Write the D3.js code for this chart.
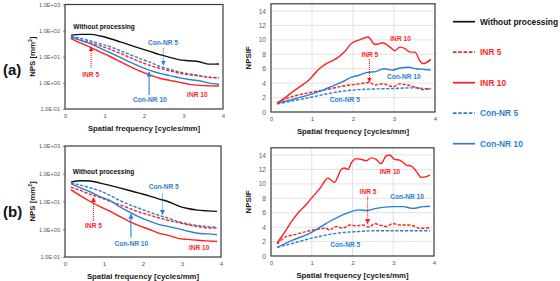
<!DOCTYPE html>
<html>
<head>
<meta charset="utf-8">
<script src="https://cdn.jsdelivr.net/npm/d3@7"></script>
<style>
  html, body { margin: 0; padding: 0; background: #fff; }
  svg { display: block; font-family: "Liberation Sans", Arial, sans-serif; }
</style>
</head>
<body>
<svg id="chart" width="560" height="281"></svg>
<script>
// ---- data -------------------------------------------------------------
const npsFreq = [0.15, 0.4, 0.65, 0.9, 1.15, 1.4, 1.65, 1.9, 2.15, 2.4, 2.65, 2.9, 3.15, 3.4, 3.65, 3.9];

// panel (a) NPS [mm^2]
const npsA_raw   = [67, 72, 72, 62, 49, 37, 28, 21, 16, 12, 9.5, 7.6, 7.0, 6.4, 5.2, 5.3];
const npsA_inr5  = [54, 43, 34, 26, 19, 13.5, 9.2, 6.4, 4.7, 3.6, 2.9, 2.35, 2.05, 1.85, 1.62, 1.55];
const npsA_inr10 = [50, 33, 23, 15, 10, 6.5, 4.2, 2.8, 2.0, 1.5, 1.25, 1.05, 0.88, 0.8, 0.77, 0.76];
const npsA_con5  = [62, 50, 40, 31, 24, 17, 12, 8.5, 6.2, 4.3, 3.3, 2.6, 2.2, 1.9, 1.65, 1.6];
const npsA_con10 = [59, 42, 31, 21, 14, 9.5, 6.2, 4.2, 3.0, 2.3, 1.9, 1.55, 1.35, 1.2, 0.98, 0.89];

// panel (b) NPS [mm^2]
const npsB_raw   = [50, 56, 55, 46, 38, 31, 25, 20, 16, 12.5, 9.8, 7.0, 5.6, 4.9, 4.6, 4.4];
const npsB_inr5  = [33, 25, 18, 14, 10.2, 7.6, 5.7, 4.2, 3.3, 2.6, 2.1, 1.75, 1.45, 1.25, 1.12, 1.1];
const npsB_inr10 = [27, 16, 10, 6.5, 4.5, 2.9, 1.9, 1.35, 1.0, 0.73, 0.6, 0.47, 0.43, 0.4, 0.38, 0.36];
const npsB_con5  = [47, 39, 31, 24, 16.6, 11, 7.7, 5.7, 4.2, 3.2, 2.5, 1.9, 1.55, 1.37, 1.25, 1.17];
const npsB_con10 = [44, 31, 22, 15, 11, 6.5, 4.2, 2.8, 2.0, 1.5, 1.25, 1.05, 0.85, 0.72, 0.68, 0.63];

// NPSIF, [frequency, value]
const ifA_inr10 = [[0.15,1.2],[0.37,2.1],[0.53,2.8],[0.78,3.8],[0.94,4.5],[1.14,5.8],[1.35,6.7],[1.59,7.4],[1.8,8.4],[1.96,9.5],[2.16,10.0],[2.37,10.4],[2.53,9.4],[2.61,9.4],[2.73,9.6],[2.9,9.0],[3.02,8.5],[3.14,9.0],[3.27,8.8],[3.39,8.3],[3.51,8.3],[3.63,7.1],[3.71,6.7],[3.9,7.3]];
const ifA_con10 = [[0.15,1.2],[0.5,1.7],[0.95,2.4],[1.25,3.0],[1.5,3.6],[1.75,4.2],[1.95,4.8],[2.15,5.1],[2.35,5.5],[2.55,5.6],[2.75,6.0],[2.95,5.8],[3.15,6.1],[3.35,6.2],[3.55,6.0],[3.75,5.9],[3.9,5.8]];
const ifA_inr5  = [[0.15,1.3],[0.5,2.1],[0.95,2.7],[1.35,3.1],[1.76,3.6],[2.16,3.9],[2.41,4.1],[2.53,3.75],[2.73,3.9],[2.98,3.5],[3.14,3.9],[3.31,3.75],[3.55,3.4],[3.71,3.1],[3.9,3.3]];
const ifA_con5  = [[0.15,1.1],[0.5,1.5],[0.94,2.0],[1.35,2.5],[1.76,2.9],[2.16,3.1],[2.57,3.2],[2.98,3.25],[3.39,3.35],[3.9,3.2]];

const ifB_inr10 = [[0.15,1.8],[0.25,2.6],[0.37,3.6],[0.53,5.0],[0.7,6.2],[0.86,7.1],[1.02,8.2],[1.19,9.3],[1.31,10.3],[1.39,10.8],[1.48,10.5],[1.56,10.2],[1.64,11.0],[1.72,12.0],[1.8,12.2],[1.89,12.0],[1.97,12.9],[2.09,13.5],[2.21,13.4],[2.34,13.2],[2.46,13.6],[2.58,13.4],[2.7,12.8],[2.83,13.9],[2.91,14.0],[3.03,13.4],[3.16,13.3],[3.32,12.6],[3.44,12.5],[3.57,11.7],[3.69,10.9],[3.81,11.0],[3.9,11.25]];
const ifB_con10 = [[0.15,1.2],[0.53,2.2],[0.94,3.1],[1.35,4.5],[1.76,5.7],[2.17,6.4],[2.34,6.3],[2.58,6.6],[2.99,6.85],[3.24,6.85],[3.48,6.6],[3.73,6.85],[3.9,6.9]];
const ifB_inr5  = [[0.15,1.65],[0.37,2.7],[0.53,2.9],[0.94,3.5],[1.14,3.7],[1.35,3.85],[1.43,3.6],[1.6,4.1],[1.76,3.85],[1.93,4.3],[2.09,4.2],[2.25,4.3],[2.42,4.0],[2.54,4.5],[2.66,4.3],[2.83,4.1],[2.99,4.5],[3.16,4.3],[3.32,4.3],[3.48,4.2],[3.65,3.85],[3.81,3.85],[3.9,4.0]];
const ifB_con5  = [[0.15,1.2],[0.53,1.75],[0.94,2.4],[1.35,2.9],[1.76,3.25],[2.17,3.4],[2.58,3.5],[2.99,3.5],[3.4,3.5],[3.9,3.5]];

const xTicks   = [0, 1, 2, 3, 4];
const npsTicks = [0.1, 1, 10, 100, 1000];
const ifTicks  = [0, 2, 4, 6, 8, 10, 12, 14];

const legendNames = ['Without processing', 'INR 5', 'INR 10', 'Con-NR 5', 'Con-NR 10'];

// ---- styles -----------------------------------------------------------
const RED = '#ff1f1f', BLUE = '#2a7fd4', BLACK = '#111';
const STYLE = {
  'Without processing': { c: BLACK, dash: null },
  'INR 5':     { c: RED,  dash: '3.2,1.6' },
  'INR 10':    { c: RED,  dash: null },
  'Con-NR 5':  { c: BLUE, dash: '3.2,1.6' },
  'Con-NR 10': { c: BLUE, dash: null }
};

const svg = d3.select('#chart');
const defs = svg.append('defs');
[['red', RED], ['blue', BLUE]].forEach(([k, c]) => {
  defs.append('marker').attr('id', 'ah-' + k)
    .attr('viewBox', '0 0 10 10').attr('refX', 9).attr('refY', 5)
    .attr('markerWidth', 5).attr('markerHeight', 5)
    .attr('markerUnits', 'userSpaceOnUse').attr('orient', 'auto')
    .append('path').attr('d', 'M0,0 L10,5 L0,10 Z').attr('fill', c);
});

const expFmt = v => {
  const e = Math.round(Math.log10(v));
  return '1.0E' + (e < 0 ? '-' : '+') + String(Math.abs(e)).padStart(2, '0');
};

function drawPanel(p) {
  const x = d3.scaleLinear().domain([0, 4]).range(p.xr);
  const y = p.log
    ? d3.scaleLog().domain([0.1, 1000]).range(p.yr)
    : d3.scaleLinear().domain([0, 15]).range(p.yr);
  const g = svg.append('g');
  const top = p.yr[1], bot = p.yr[0];

  // gridlines (NPSIF only)
  if (!p.log) {
    g.append('g').selectAll('line').data(ifTicks.filter(t => t > 0)).join('line')
      .attr('x1', p.xr[0]).attr('x2', p.xr[1])
      .attr('y1', d => y(d)).attr('y2', d => y(d))
      .attr('stroke', '#dcdcdc').attr('stroke-width', 0.8);
    g.append('g').selectAll('line').data([1, 2, 3]).join('line')
      .attr('x1', d => x(d)).attr('x2', d => x(d))
      .attr('y1', top).attr('y2', bot)
      .attr('stroke', '#dcdcdc').attr('stroke-width', 0.8);
  }

  // axes (tick labels only, Excel style)
  const yAxis = d3.axisLeft(y).tickValues(p.log ? npsTicks : ifTicks)
    .tickFormat(p.log ? expFmt : d3.format('d')).tickSize(p.log ? 2 : 0).tickPadding(p.log ? 3 : 5);
  const ya = g.append('g').attr('transform', `translate(${p.xr[0]},0)`).call(yAxis);
  ya.select('.domain').remove();
  ya.selectAll('line').attr('stroke', '#888');
  ya.selectAll('text').attr('fill', '#595959').attr('font-size', p.log ? 5.6 : 6.6);

  const xAxis = d3.axisBottom(x).tickValues(xTicks).tickFormat(d3.format('d')).tickSize(0).tickPadding(5);
  const xa = g.append('g').attr('transform', `translate(0,${bot})`).call(xAxis);
  xa.select('.domain').remove();
  xa.selectAll('text').attr('fill', '#595959').attr('font-size', 6.2);

  // series
  const line = d3.line().x(d => x(d[0])).y(d => y(d[1])).curve(d3.curveMonotoneX);
  p.series.forEach(s => {
    const st = STYLE[s.name];
    g.append('path').datum(s.pts).attr('d', line)
      .attr('fill', 'none').attr('stroke', st.c)
      .attr('stroke-width', 1.4)
      .attr('stroke-dasharray', st.dash);
  });

  // frame
  g.append('rect').attr('x', p.xr[0]).attr('y', top)
    .attr('width', p.xr[1] - p.xr[0]).attr('height', bot - top)
    .attr('fill', 'none').attr('stroke', '#3a3a3a').attr('stroke-width', 1.2);

  // axis titles
  g.append('text').attr('x', (p.xr[0] + p.xr[1]) / 2).attr('y', bot + 22)
    .attr('text-anchor', 'middle').attr('font-weight', 700).attr('font-size', 7.8)
    .attr('fill', '#1a1a1a').text('Spatial frequency [cycles/mm]');
  const yt = g.append('text')
    .attr('transform', `translate(${p.ytx},${(top + bot) / 2}) rotate(-90)`)
    .attr('text-anchor', 'middle').attr('font-weight', 700).attr('font-size', 7.8)
    .attr('fill', '#1a1a1a');
  if (p.log) {
    yt.append('tspan').text('NPS [mm');
    yt.append('tspan').attr('font-size', 5).attr('dy', -3).text('2');
    yt.append('tspan').attr('dy', 3).text(']');
  } else {
    yt.text('NPSIF');
  }

  // annotations
  p.notes.forEach(n => {
    const c = n.c === 'k' ? BLACK : n.c === 'r' ? RED : BLUE;
    g.append('text').attr('x', x(n.f)).attr('y', y(n.v))
      .attr('text-anchor', 'middle').attr('dominant-baseline', 'middle')
      .attr('font-weight', 700).attr('font-size', 6.6).attr('fill', c).text(n.t);
    if (n.arrow) {
      const [f, v0, v1] = n.arrow;
      g.append('line').attr('x1', x(f)).attr('x2', x(f))
        .attr('y1', y(v0)).attr('y2', y(v1))
        .attr('stroke', c).attr('stroke-width', 1.1)
        .attr('stroke-dasharray', n.dot ? '1,1' : null)
        .attr('marker-end', `url(#ah-${n.c === 'r' ? 'red' : 'blue'})`);
    }
  });
}

const mk = (raw, i5, i10, c5, c10) => [
  { name: 'Without processing', pts: npsFreq.map((f, i) => [f, raw[i]]) },
  { name: 'Con-NR 5',  pts: npsFreq.map((f, i) => [f, c5[i]]) },
  { name: 'INR 5',     pts: npsFreq.map((f, i) => [f, i5[i]]) },
  { name: 'Con-NR 10', pts: npsFreq.map((f, i) => [f, c10[i]]) },
  { name: 'INR 10',    pts: npsFreq.map((f, i) => [f, i10[i]]) }
];

// (a) NPS
drawPanel({
  log: true, xr: [65, 223], yr: [109, 4.5], ytx: 35,
  series: mk(npsA_raw, npsA_inr5, npsA_inr10, npsA_con5, npsA_con10),
  notes: [
    { t: 'Without processing', f: 0.99, v: 137, c: 'k' },
    { t: 'Con-NR 5', f: 2.48, v: 33, c: 'b', arrow: [2.49, 21, 4.8], dot: true },
    { t: 'INR 5', f: 0.65, v: 2.0, c: 'r', arrow: [0.66, 3.7, 24], dot: true },
    { t: 'Con-NR 10', f: 2.15, v: 0.22, c: 'b', arrow: [2.13, 0.34, 2.6] },
    { t: 'INR 10', f: 3.35, v: 0.34, c: 'r' }
  ]
});

// (a) NPSIF
drawPanel({
  log: false, xr: [271, 435], yr: [112, 3.8], ytx: 251,
  series: [
    { name: 'Con-NR 5', pts: ifA_con5 }, { name: 'INR 5', pts: ifA_inr5 },
    { name: 'Con-NR 10', pts: ifA_con10 }, { name: 'INR 10', pts: ifA_inr10 }
  ],
  notes: [
    { t: 'INR 10', f: 3.16, v: 10.1, c: 'r' },
    { t: 'INR 5', f: 2.41, v: 7.9, c: 'r', arrow: [2.4, 7.35, 4.15], dot: true },
    { t: 'Con-NR 10', f: 3.24, v: 4.75, c: 'b' },
    { t: 'Con-NR 5', f: 1.8, v: 1.66, c: 'b' }
  ]
});

// (b) NPS
drawPanel({
  log: true, xr: [65, 221], yr: [257, 146], ytx: 35,
  series: mk(npsB_raw, npsB_inr5, npsB_inr10, npsB_con5, npsB_con10),
  notes: [
    { t: 'Without processing', f: 0.99, v: 117, c: 'k' },
    { t: 'Con-NR 5', f: 2.53, v: 33, c: 'b', arrow: [2.5, 19.5, 3.4], dot: true },
    { t: 'INR 5', f: 0.73, v: 1.3, c: 'r', arrow: [0.73, 2.0, 14], dot: true },
    { t: 'Con-NR 10', f: 1.7, v: 0.30, c: 'b', arrow: [1.69, 0.5, 3.5] },
    { t: 'INR 10', f: 3.44, v: 0.2, c: 'r' }
  ]
});

// (b) NPSIF
drawPanel({
  log: false, xr: [271, 434], yr: [256, 147.8], ytx: 251,
  series: [
    { name: 'Con-NR 5', pts: ifB_con5 }, { name: 'INR 5', pts: ifB_inr5 },
    { name: 'Con-NR 10', pts: ifB_con10 }, { name: 'INR 10', pts: ifB_inr10 }
  ],
  notes: [
    { t: 'INR 10', f: 2.92, v: 11.55, c: 'r' },
    { t: 'INR 5', f: 2.38, v: 8.9, c: 'r', arrow: [2.37, 8.2, 4.5], dot: true },
    { t: 'Con-NR 10', f: 3.34, v: 8.1, c: 'b' },
    { t: 'Con-NR 5', f: 1.82, v: 1.5, c: 'b' }
  ]
});

// panel letters
svg.append('text').attr('x', 3).attr('y', 75).attr('font-size', 15).attr('font-weight', 700)
  .attr('fill', '#111').text('(a)');
svg.append('text').attr('x', 3).attr('y', 217).attr('font-size', 15).attr('font-weight', 700)
  .attr('fill', '#111').text('(b)');

// legend
const leg = svg.append('g').selectAll('g').data(legendNames).join('g')
  .attr('transform', (d, i) => `translate(453,${21.7 + i * 30.5})`);
leg.append('line').attr('x1', 0).attr('x2', 22)
  .attr('stroke', d => STYLE[d].c).attr('stroke-width', 1.7)
  .attr('stroke-dasharray', d => STYLE[d].dash ? '3.5,1.8' : null);
leg.append('text').attr('x', 27).attr('dy', '0.35em')
  .attr('font-size', 8.4).attr('font-weight', 700)
  .attr('fill', d => STYLE[d].c).text(d => d);
</script>
</body>
</html>
